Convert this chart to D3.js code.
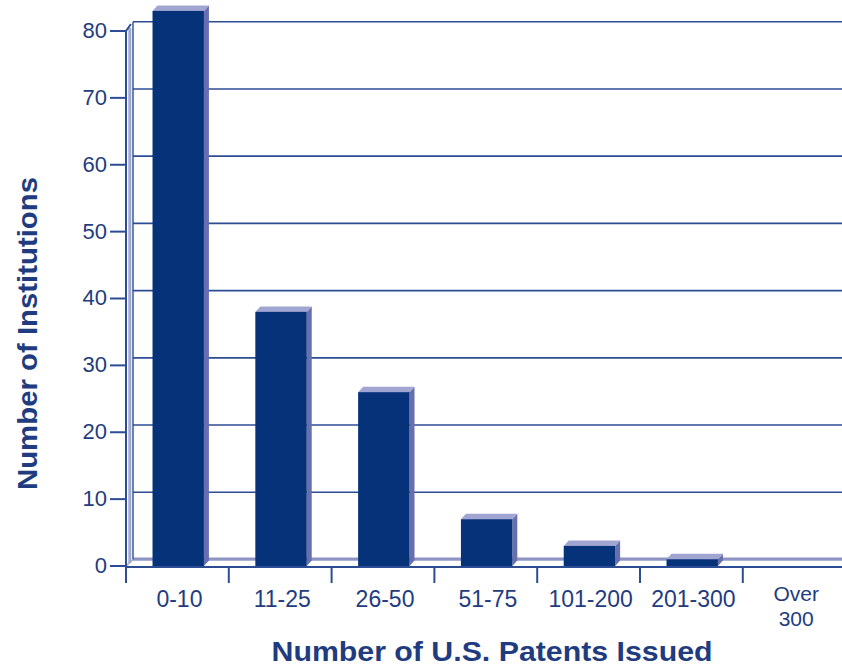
<!DOCTYPE html>
<html>
<head>
<meta charset="utf-8">
<script src="https://cdn.jsdelivr.net/npm/d3@7"></script>
<style>
  html, body { margin: 0; padding: 0; background: #ffffff; }
  svg { display: block; }
  text { font-family: "Liberation Sans", Arial, Helvetica, sans-serif; }
</style>
</head>
<body>
<svg id="chart" width="842" height="668"></svg>
<script>
// Patent ranges and number of institutions in each
const categories = ["0-10", "11-25", "26-50", "51-75", "101-200", "201-300", "Over 300"];
const counts = [83, 38, 26, 7, 3, 1, 0];
const yTicks = [0, 10, 20, 30, 40, 50, 60, 70, 80];
const xTitle = "Number of U.S. Patents Issued";
const yTitle = "Number of Institutions";

const navy = "#06327a";
const barTop = "#a1a5d1";
const barSide = "#676fae";
const lineCol = "#2c4d93";
const textCol = "#1f3c80";
const lav = "#a3a8cf";

const svg = d3.select("#chart");

// front plane and back wall (3D depth) scales
const x = d3.scaleBand().domain(categories).range([126, 845.6]).padding(0);
const yFront = d3.scaleLinear().domain([0, 80]).range([566, 31]);
const yBack = d3.scaleLinear().domain([0, 80]).range([559.5, 21.7]);
const depthX = 7;
const backLeft = 126 + depthX;
const rightEdge = 842;

// back wall grid lines
svg.append("g").selectAll("line")
  .data(yTicks.filter(d => d > 0))
  .join("line")
  .attr("x1", backLeft).attr("x2", rightEdge)
  .attr("y1", d => yBack(d)).attr("y2", d => yBack(d))
  .attr("stroke", lineCol).attr("stroke-width", 1.6);

// back floor edge
svg.append("rect")
  .attr("x", backLeft).attr("y", yBack(0) - 2)
  .attr("width", rightEdge - backLeft).attr("height", 3.2)
  .attr("fill", "#8d94c3");

// side wall: lavender strip and back vertical line
svg.append("line")
  .attr("x1", 129.8).attr("x2", 129.8)
  .attr("y1", yFront(80) - 3).attr("y2", yFront(0) - 3)
  .attr("stroke", lav).attr("stroke-width", 3);
svg.append("line")
  .attr("x1", backLeft).attr("x2", backLeft)
  .attr("y1", yBack(80)).attr("y2", yBack(0))
  .attr("stroke", lineCol).attr("stroke-width", 1.4);

// bars: front face, side face, top face
const barW = x.bandwidth() * 0.5;
const bx = d => x(d) + x.bandwidth() * 0.258;
const dX = 5, dY = -5.5;
const bars = svg.append("g").selectAll("g")
  .data(categories.map((c, i) => ({ c, v: counts[i] })).filter(d => d.v > 0))
  .join("g");

bars.append("path")
  .attr("fill", barSide)
  .attr("d", d => {
    const x1 = bx(d.c) + barW, yt = yFront(d.v), yb = yFront(0);
    return `M${x1},${yt}L${x1 + dX},${yt + dY}L${x1 + dX},${yb + dY}L${x1},${yb}Z`;
  });
bars.append("path")
  .attr("fill", barTop)
  .attr("d", d => {
    const x0 = bx(d.c), yt = yFront(d.v);
    return `M${x0},${yt}L${x0 + dX},${yt + dY}L${x0 + barW + dX},${yt + dY}L${x0 + barW},${yt}Z`;
  });
bars.append("rect")
  .attr("fill", navy)
  .attr("x", d => bx(d.c))
  .attr("y", d => yFront(d.v))
  .attr("width", barW)
  .attr("height", d => yFront(0) - yFront(d.v));

// front baseline
svg.append("line")
  .attr("x1", 126).attr("x2", rightEdge)
  .attr("y1", 567).attr("y2", 567)
  .attr("stroke", lineCol).attr("stroke-width", 2.2);

// floor corner diagonal
svg.append("line")
  .attr("x1", 126).attr("y1", 566).attr("x2", backLeft).attr("y2", yBack(0))
  .attr("stroke", lav).attr("stroke-width", 1.5);

// front y axis line with small top bevel
svg.append("path")
  .attr("fill", "none").attr("stroke", lineCol).attr("stroke-width", 2)
  .attr("d", `M126,583L126,${yFront(80)}L131,${yFront(80) - 7}`);

// y ticks and labels
const yt = svg.append("g");
yt.selectAll("line").data(yTicks).join("line")
  .attr("x1", 110).attr("x2", 126)
  .attr("y1", d => yFront(d)).attr("y2", d => yFront(d))
  .attr("stroke", lineCol).attr("stroke-width", 2);
yt.selectAll("text").data(yTicks).join("text")
  .attr("x", 107).attr("y", d => yFront(d) - 1)
  .attr("dy", "0.36em")
  .attr("text-anchor", "end")
  .attr("font-size", 22)
  .attr("fill", textCol)
  .text(d => d);

// x ticks at category boundaries
svg.append("g").selectAll("line")
  .data(categories.slice(1))
  .join("line")
  .attr("x1", d => x(d)).attr("x2", d => x(d))
  .attr("y1", 567).attr("y2", 583)
  .attr("stroke", lineCol).attr("stroke-width", 2);

// x category labels; two-word labels wrap onto two lines
const xl = svg.append("g").selectAll("text")
  .data(categories)
  .join("text")
  .attr("text-anchor", "middle")
  .attr("font-size", d => d.includes(" ") ? 21 : 23)
  .attr("fill", textCol)
  .attr("transform", d => `translate(${x(d) + x.bandwidth() / 2 + 2},0)`);
xl.each(function (d) {
  const parts = d.split(" ");
  const t = d3.select(this);
  const y0 = parts.length > 1 ? 601 : 607;
  parts.forEach((p, i) => {
    t.append("tspan").attr("x", 0).attr("y", y0 + i * 24.5).text(p);
  });
});

// axis titles
svg.append("text")
  .attr("x", 492).attr("y", 661)
  .attr("text-anchor", "middle")
  .attr("font-size", 28).attr("font-weight", "bold")
  .attr("fill", textCol)
  .attr("textLength", 441).attr("lengthAdjust", "spacingAndGlyphs")
  .text(xTitle);

svg.append("text")
  .attr("transform", "translate(37,333.5) rotate(-90)")
  .attr("text-anchor", "middle")
  .attr("font-size", 28).attr("font-weight", "bold")
  .attr("fill", textCol)
  .attr("textLength", 313).attr("lengthAdjust", "spacingAndGlyphs")
  .text(yTitle);
</script>
</body>
</html>
